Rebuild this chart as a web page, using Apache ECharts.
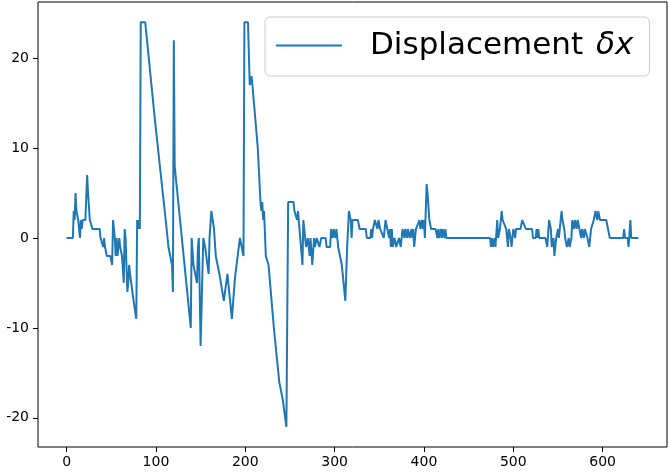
<!DOCTYPE html>
<html>
<head>
<meta charset="utf-8">
<script src="https://cdn.jsdelivr.net/npm/echarts@6/dist/echarts.min.js"></script>
<style>
html,body{margin:0;padding:0;background:#fff;}
#chart{width:668px;height:472px;}
</style>
</head>
<body>
<div id="chart"></div>
<script>
// Sample index (x) of each vertex of the trace
const sampleIndex = [
  0,7,8,9,10,11,12,13,14,15,16,17,18,21,23,24,26,28,29,37,38,40,41,42,43,45,49,51,52,54,55,56,57,59,60,62,64,65,66,68,69,70,71,73,75,78,79,80,81,82,
  83,88,91,93,95,97,99,100,112,113,114,116,118,119,120,121,139,140,142,143,146,147,148,150,152,153,154,155,159,160,162,165,167,169,171,173,176,177,180,182,185,188,189,191,194,196,197,198,
  199,203,205,207,208,214,217,218,219,220,221,223,225,226,232,234,238,240,242,244,246,248,254,255,257,258,259,264,265,267,268,270,272,273,275,277,278,280,283,285,290,291,295,296,298,299,301,302,303,304,306,308,310,311,312,314,315,316,318,319,320,323,326,328,335,336,340,341,342,343,345,346,348,349,351,353,355,356,357,359,361,362,363,364,365,367,369,371,372,374,376,378,379,381,382,384,386,387,388,389,391,393,395,396,398,399,400,401,403,404,406,408,413,415,416,417,419,420,421,423,424,425,
  474,475,476,477,479,480,482,483,485,487,488,490,492,494,495,497,498,500,502,503,508,510,512,514,521,522,525,526,527,528,529,536,538,540,542,543,545,546,548,550,551,554,555,557,558,560,562,563,565,566,568,569,571,572,574,576,577,579,580,582,583,585,587,589,590,592,594,595,597,604,606,608,623,624,625,628,629,631,632,640
];
// Displacement value at each vertex
const displacement = [
  0,0,3,2,5,3,3,2,1,0,2,1,2,2,7,5,2,2,1,1,0,0,-1,0,-1,-2,-2,-3,2,0,-2,0,-2,0,-1,-2,-5,1,0,-6,-5,-3,-4,-4,-7,-9,2,1,2,1,
  24,24,21,21,17,17,13,13,1,1,-1,-1,-3,-6,22,8,-10,0,-3,-3,-5,-1,0,-12,-12,0,0,-1,-4,0,3,1,-2,-2,-4,-4,-7,-7,-4,-6,-9,-5,-4,-4,0,-1,-1,-2,
  24,24,17,18,17,10,4,3,4,2,3,-2,-2,-3,-10,-10,-16,-16,-18,-18,-21,4,4,3,3,2,3,-3,2,0,-1,0,-2,0,-3,0,-1,0,-1,0,0,-1,-1,1,0,1,0,1,0,-1,-1,-3,-5,-5,-7,-1,-1,3,2,0,2,2,2,1,1,0,0,1,0,1,2,2,1,2,1,1,0,1,2,1,0,1,-1,1,-1,0,-1,-1,0,-1,1,0,1,0,1,0,1,0,1,-1,1,1,2,1,2,1,2,0,6,5,2,1,1,0,1,0,1,0,1,0,1,0,
  0,-1,0,-1,0,-1,2,0,1,3,2,2,1,-1,1,0,-1,1,0,1,1,2,2,1,1,0,0,1,0,1,0,0,-1,2,1,-1,0,-2,0,1,0,3,2,1,0,-1,0,-1,0,2,1,2,1,2,1,0,1,0,1,1,0,-1,1,1,2,3,2,3,2,2,1,0,0,1,0,0,-1,2,0,0
];
const xTicks = [0, 100, 200, 300, 400, 500, 600];
const yTicks = [-20, -10, 0, 10, 20];
const seriesName = 'Displacement δx';

const data = sampleIndex.map((x, i) => [x, displacement[i]]);
const font = 'DejaVu Sans';

const chart = echarts.init(document.getElementById('chart'), null, {renderer: 'canvas'});
chart.setOption({
  animation: false,
  backgroundColor: '#fff',
  grid: {
    left: 38, right: 1, top: 2, bottom: 25,
    show: true, borderColor: '#000', borderWidth: 1, backgroundColor: 'transparent'
  },
  legend: {
    left: 265, top: 17,
    padding: [13, 16, 15, 11],
    backgroundColor: 'rgba(255,255,255,0.8)',
    borderColor: '#cccccc', borderWidth: 1, borderRadius: 5,
    icon: 'rect', itemWidth: 66, itemHeight: 2,
    formatter: function () { return '{n|Displacement}{m|δx}'; },
    textStyle: {
      color: '#000',
      padding: [0, 0, 0, 23],
      rich: {
        n: {fontFamily: font, fontSize: 31, color: '#000'},
        m: {fontFamily: font, fontSize: 31, fontStyle: 'italic', color: '#000', padding: [0, 0, 0, 13]}
      }
    },
    data: [seriesName]
  },
  xAxis: {
    type: 'value', min: -32, max: 672,
    axisLine: {show: false, onZero: false},
    axisTick: {show: true, inside: false, length: 5, lineStyle: {color: '#000'}, customValues: xTicks},
    axisLabel: {color: '#000', fontFamily: font, fontSize: 14, margin: 8, customValues: xTicks},
    splitLine: {show: false}
  },
  yAxis: {
    type: 'value', min: -23.25, max: 26.25,
    axisLine: {show: false, onZero: false},
    axisTick: {show: true, inside: false, length: 5, lineStyle: {color: '#000'}, customValues: yTicks},
    axisLabel: {color: '#000', fontFamily: font, fontSize: 14, margin: 9, customValues: yTicks},
    splitLine: {show: false}
  },
  series: [{
    name: seriesName,
    type: 'line',
    data: data,
    symbol: 'none',
    color: '#1f77b4',
    lineStyle: {width: 2, color: '#1f77b4'},
    z: 3
  }]
});
</script>
</body>
</html>
